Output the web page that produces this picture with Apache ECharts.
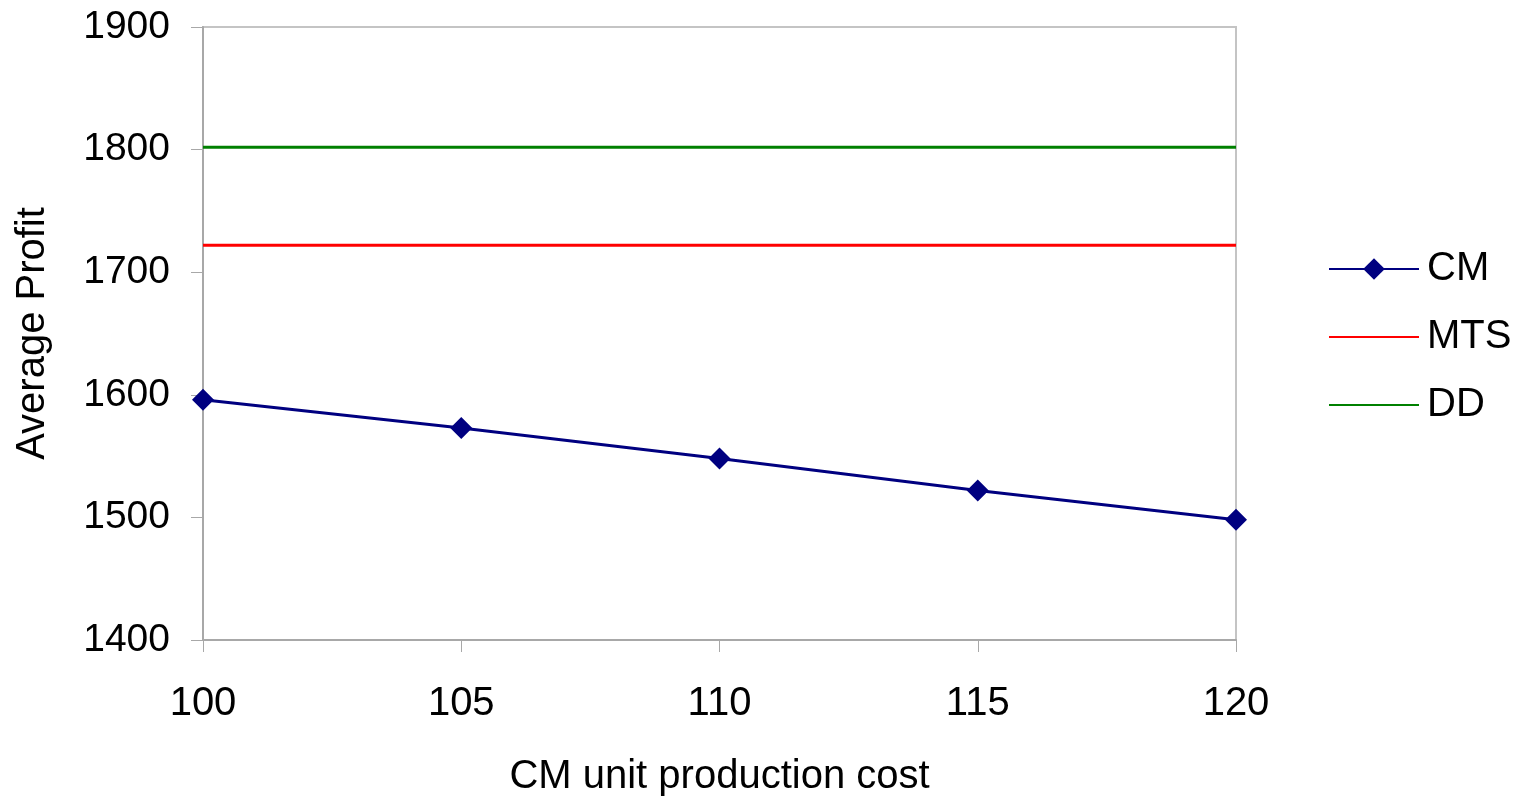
<!DOCTYPE html>
<html>
<head>
<meta charset="utf-8">
<script src="https://cdn.jsdelivr.net/npm/echarts@6/dist/echarts.min.js"></script>
<style>html,body{margin:0;padding:0;background:#fff}#c{width:1530px;height:802px}</style>
</head>
<body>
<div id="c"></div>
<script>
const costs = [100, 105, 110, 115, 120];
const cmValues = [1596, 1573, 1548, 1522, 1498];
const mtsValues = [1722, 1722, 1722, 1722, 1722];
const ddValues = [1802, 1802, 1802, 1802, 1802];
const seriesNames = ['CM', 'MTS', 'DD'];

const font = 'Liberation Sans, Arial, sans-serif';
const chart = echarts.init(document.getElementById('c'));
const pair = (vals) => costs.map((c, i) => [c, vals[i]]);
chart.setOption({
  animation: false,
  backgroundColor: '#fff',
  grid: { left: 203, top: 27, right: 294, bottom: 159, show: true, borderColor: '#c4c4c4', borderWidth: 2, backgroundColor: 'transparent' },
  legend: {
    orient: 'vertical', left: 1323, top: 244, itemWidth: 90, itemHeight: 27, itemGap: 28,
    textStyle: { fontFamily: font, fontSize: 40, color: '#000', padding: [0, 0, 0, 3] },
    data: [
      { name: seriesNames[0] },
      { name: seriesNames[1], itemStyle: { opacity: 0 } },
      { name: seriesNames[2], itemStyle: { opacity: 0 } }
    ]
  },
  xAxis: {
    type: 'value', min: 100, max: 120, interval: 5,
    name: 'CM unit production cost', nameLocation: 'middle', nameGap: 117,
    nameTextStyle: { fontFamily: font, fontSize: 40, color: '#000' },
    axisLine: { lineStyle: { color: '#a8a8a8', width: 2 } },
    axisTick: { show: true, length: 12, lineStyle: { color: '#a8a8a8', width: 1 } },
    axisLabel: { fontFamily: font, fontSize: 40, color: '#000', margin: 44 },
    splitLine: { show: false }
  },
  yAxis: {
    type: 'value', min: 1400, max: 1900, interval: 100,
    name: 'Average Profit', nameLocation: 'middle', nameGap: 150,
    nameTextStyle: { fontFamily: font, fontSize: 40, color: '#000' },
    axisLine: { show: true, lineStyle: { color: '#a8a8a8', width: 2 } },
    axisTick: { show: true, length: 12, lineStyle: { color: '#a8a8a8', width: 1 } },
    axisLabel: { fontFamily: font, fontSize: 39, color: '#000', margin: 33, formatter: (v) => String(v) },
    splitLine: { show: false }
  },
  series: [
    { name: 'CM', type: 'line', data: pair(cmValues), symbol: 'diamond', symbolSize: 22,
      lineStyle: { color: '#000080', width: 3 }, itemStyle: { color: '#000080' } },
    { name: 'MTS', type: 'line', data: pair(mtsValues), symbol: 'none',
      lineStyle: { color: '#ff0000', width: 3 }, itemStyle: { color: '#ff0000' } },
    { name: 'DD', type: 'line', data: pair(ddValues), symbol: 'none',
      lineStyle: { color: '#008000', width: 3 }, itemStyle: { color: '#008000' } }
  ]
});
</script>
</body>
</html>
